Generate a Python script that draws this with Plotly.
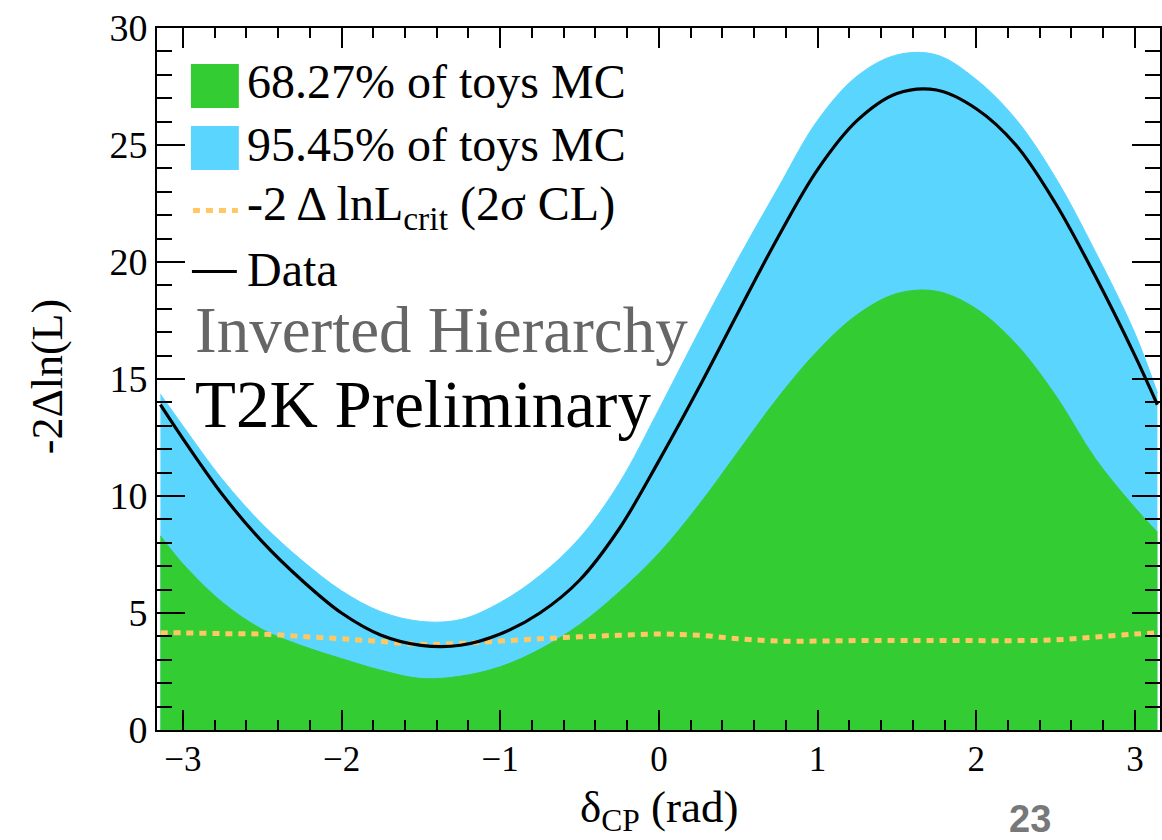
import plotly.graph_objects as go

# ---------------- data ----------------
delta_cp = [-3.1416, -3.0, -2.75, -2.5, -2.25, -2.0, -1.75, -1.5, -1.25, -1.0,
            -0.75, -0.5, -0.25, 0.0, 0.25, 0.5, 0.75, 1.0, 1.25, 1.5, 1.75,
            2.0, 2.25, 2.5, 2.75, 3.0, 3.1416]

data_curve = [13.9, 12.45, 10.05, 8.05, 6.4, 5.0, 4.05, 3.62, 3.62, 4.1,
              5.0, 6.4, 8.6, 11.5, 14.6, 17.85, 21.05, 23.95, 26.05, 27.2, 27.35,
              26.55, 25.0, 22.5, 19.4, 16.0, 13.9]

band95_upper = [14.35, 13.0, 10.7, 8.8, 7.25, 5.95, 5.05, 4.64, 4.72, 5.45,
                6.6, 8.2, 10.55, 13.7, 17.0, 20.15, 23.15, 26.05, 27.95, 28.85, 28.85,
                27.8, 26.1, 23.6, 20.45, 16.95, 14.4]

band68_upper = [8.3, 7.1, 5.45, 4.3, 3.6, 3.05, 2.55, 2.2, 2.3, 2.7,
                3.45, 4.5, 5.9, 7.55, 9.6, 11.9, 14.2, 16.2, 17.75, 18.65, 18.75,
                18.0, 16.5, 14.3, 11.6, 9.5, 8.45]

crit_2sigma = [4.15, 4.15, 4.12, 4.1, 4.0, 3.9, 3.78, 3.66, 3.7, 3.8,
               3.9, 3.98, 4.05, 4.1, 4.05, 3.9, 3.8, 3.8, 3.82, 3.82, 3.82,
               3.82, 3.82, 3.85, 3.97, 4.1, 4.15]

legend_labels = ["68.27% of toys MC", "95.45% of toys MC",
                 "-2 Δ lnL<sub>crit</sub> (2σ CL)", "Data"]

# ---------------- styles ----------------
GREEN = "#33cc33"
BLUE = "#5ad5fe"
ORANGE = "#ffc864"
SERIF = "Liberation Serif, Times New Roman, serif"

W, H = 1162, 840
ML, MR, MT, MB = 157, 0, 28, 110
PW, PH = W - ML - MR, H - MT - MB


def px(xp):
    return (xp - ML) / PW


def py(yp):
    return (H - MB - yp) / PH


fig = go.Figure()
fig.add_trace(go.Scatter(x=delta_cp, y=band95_upper, mode="lines",
                         line=dict(color=BLUE, width=1, shape="spline"),
                         fill="tozeroy", fillcolor=BLUE, showlegend=False,
                         hoverinfo="skip"))
fig.add_trace(go.Scatter(x=delta_cp, y=band68_upper, mode="lines",
                         line=dict(color=GREEN, width=1, shape="spline"),
                         fill="tozeroy", fillcolor=GREEN, showlegend=False,
                         hoverinfo="skip"))
fig.add_trace(go.Scatter(x=delta_cp, y=crit_2sigma, mode="lines",
                         line=dict(color=ORANGE, width=5, dash="7px,6px", shape="spline"),
                         showlegend=False))
fig.add_trace(go.Scatter(x=delta_cp, y=data_curve, mode="lines",
                         line=dict(color="black", width=3.2, shape="spline"),
                         showlegend=False))

axis_common = dict(showline=True, linecolor="black", linewidth=2, mirror="allticks",
                   ticks="inside", tickcolor="black", tickwidth=2,
                   showgrid=False, zeroline=False)

fig.update_xaxes(range=[-3.163, 3.158], dtick=1, tick0=0, ticklen=20,
                 minor=dict(dtick=0.2, tick0=0, ticklen=10, tickwidth=2,
                            tickcolor="black", ticks="inside"),
                 tickfont=dict(family=SERIF, size=35, color="black"),
                 ticklabelstandoff=-3,
                 **axis_common)
fig.update_yaxes(range=[0, 30], dtick=5, tick0=0, ticklen=28,
                 minor=dict(dtick=1, tick0=0, ticklen=15, tickwidth=2,
                            tickcolor="black", ticks="inside"),
                 tickfont=dict(family=SERIF, size=38, color="black"),
                 **axis_common)

shapes = []
annotations = []

# manual legend
sw_x0, sw_x1 = 191, 239
shapes.append(dict(type="rect", xref="paper", yref="paper",
                   x0=px(sw_x0), x1=px(sw_x1), y0=py(108), y1=py(64),
                   fillcolor=GREEN, line=dict(width=0)))
shapes.append(dict(type="rect", xref="paper", yref="paper",
                   x0=px(sw_x0), x1=px(sw_x1), y0=py(170), y1=py(126),
                   fillcolor=BLUE, line=dict(width=0)))
shapes.append(dict(type="line", xref="paper", yref="paper",
                   x0=px(193), x1=px(238), y0=py(210.5), y1=py(210.5),
                   line=dict(color=ORANGE, width=5, dash="7px,6px")))
shapes.append(dict(type="line", xref="paper", yref="paper",
                   x0=px(192), x1=px(237), y0=py(271.5), y1=py(271.5),
                   line=dict(color="black", width=3)))

legend_centers = [82, 145, 207, 269]
for lab, cy in zip(legend_labels, legend_centers):
    annotations.append(dict(text=lab, xref="paper", yref="paper", x=px(245), y=py(cy),
                            xanchor="left", yanchor="middle", showarrow=False,
                            font=dict(family=SERIF, size=48, color="black")))

annotations.append(dict(text="Inverted Hierarchy", xref="paper", yref="paper",
                        x=px(193), y=py(330), xanchor="left", yanchor="middle",
                        showarrow=False, font=dict(family=SERIF, size=65, color="#666666")))
annotations.append(dict(text="T2K Preliminary", xref="paper", yref="paper",
                        x=px(193), y=py(404), xanchor="left", yanchor="middle",
                        showarrow=False, font=dict(family=SERIF, size=67, color="black")))

# axis titles
annotations.append(dict(text="-2Δln(L)", xref="paper", yref="paper",
                        x=px(47), y=py(377), xanchor="center", yanchor="middle",
                        textangle=-90, showarrow=False,
                        font=dict(family=SERIF, size=44, color="black")))
annotations.append(dict(text="δ<sub>CP</sub> (rad)", xref="paper", yref="paper",
                        x=px(660), y=py(810), xanchor="center", yanchor="middle",
                        showarrow=False, font=dict(family=SERIF, size=45, color="black")))

# slide page number
annotations.append(dict(text="<b>23</b>", xref="paper", yref="paper",
                        x=px(1032), y=py(819), xanchor="center", yanchor="middle",
                        showarrow=False,
                        font=dict(family="Liberation Sans", size=38, color="#787878")))

fig.update_layout(width=W, height=H, margin=dict(l=ML, r=MR, t=MT, b=MB),
                  paper_bgcolor="white", plot_bgcolor="white",
                  shapes=shapes, annotations=annotations, showlegend=False)

fig.write_html("out.html")
